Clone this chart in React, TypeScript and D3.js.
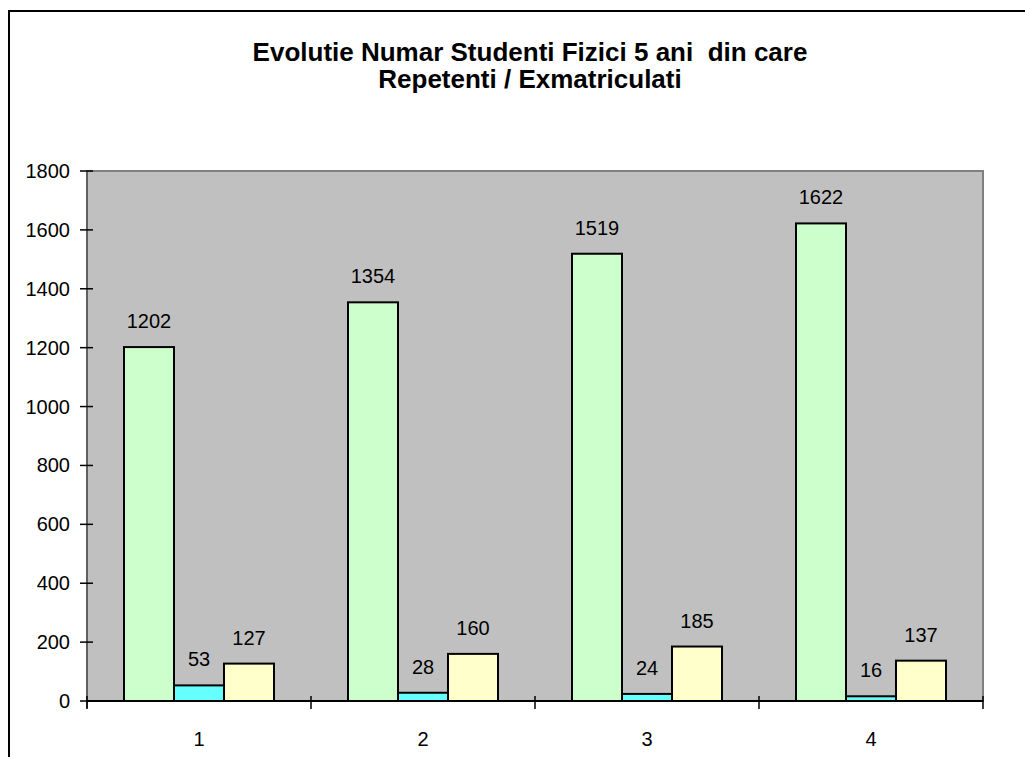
import React from "react";
import * as d3 from "d3";

const categories = ["1", "2", "3", "4"];
const studenti = [1202, 1354, 1519, 1622];
const repetenti = [53, 28, 24, 16];
const exmatriculati = [127, 160, 185, 137];
const yTicks = [0, 200, 400, 600, 800, 1000, 1200, 1400, 1600, 1800];
const titleLines = ["Evolutie Numar Studenti Fizici 5 ani  din care", "Repetenti / Exmatriculati"];
const seriesColors = ["#CCFFCC", "#66FFFF", "#FFFFCC"];

export default function App() {
  const W = 1025, H = 757;
  const left = 87, right = 983, top = 171, bottom = 701;
  const x = d3.scaleBand().domain(categories).range([left, right]).paddingInner(0).paddingOuter(0);
  const y = d3.scaleLinear().domain([0, 1800]).range([bottom, top]);
  const inner = d3.scaleBand().domain(["a", "b", "c"]).range([0, x.bandwidth()]).paddingOuter(0.74).paddingInner(0);
  const series = [studenti, repetenti, exmatriculati];
  const keys = ["a", "b", "c"];
  const font = "Arial, 'Liberation Sans', sans-serif";
  return (
    <svg width={W} height={H} style={{ position: "absolute", left: 0, top: 0 }}>
      <rect x={0} y={0} width={W} height={H} fill="#fff" />
      <rect x={9} y={11} width={W + 20} height={H + 20} fill="none" stroke="#000" strokeWidth={2} />
      {titleLines.map((t, i) => (
        <text key={i} x={530} y={61 + i * 27} textAnchor="middle" fontFamily={font} fontWeight="bold" fontSize={26} style={{ whiteSpace: "pre" }}>
          {t}
        </text>
      ))}
      <rect x={left} y={top} width={right - left} height={bottom - top} fill="#C0C0C0" stroke="#808080" strokeWidth={2} />
      {categories.map((c, ci) =>
        series.map((s, si) => {
          const bx = (x(c) as number) + (inner(keys[si]) as number);
          const bw = inner.bandwidth();
          const v = s[ci];
          return (
            <g key={c + si}>
              <rect x={bx} y={y(v)} width={bw} height={bottom - y(v)} fill={seriesColors[si]} stroke="#000" strokeWidth={2} />
              <text x={bx + bw / 2} y={y(v) - 19} textAnchor="middle" fontFamily={font} fontSize={20}>
                {v}
              </text>
            </g>
          );
        })
      )}
      <line x1={left} x2={left} y1={top} y2={bottom + 7} stroke="#606060" strokeWidth={2} />
      <line x1={left} x2={right} y1={bottom} y2={bottom} stroke="#000" strokeWidth={2} />
      {yTicks.map((t) => (
        <g key={t}>
          <line x1={left - 7} x2={left + 6} y1={y(t)} y2={y(t)} stroke="#000" strokeWidth={1.5} />
          <text x={left - 17} y={y(t) + 7} textAnchor="end" fontFamily={font} fontSize={20}>
            {t}
          </text>
        </g>
      ))}
      {d3.range(categories.length + 1).map((i) => {
        const tx = left + i * x.bandwidth();
        return <line key={i} x1={tx} x2={tx} y1={bottom - 5} y2={bottom + 8} stroke="#000" strokeWidth={1.5} />;
      })}
      {categories.map((c) => (
        <text key={c} x={(x(c) as number) + x.bandwidth() / 2} y={746} textAnchor="middle" fontFamily={font} fontSize={20}>
          {c}
        </text>
      ))}
    </svg>
  );
}
